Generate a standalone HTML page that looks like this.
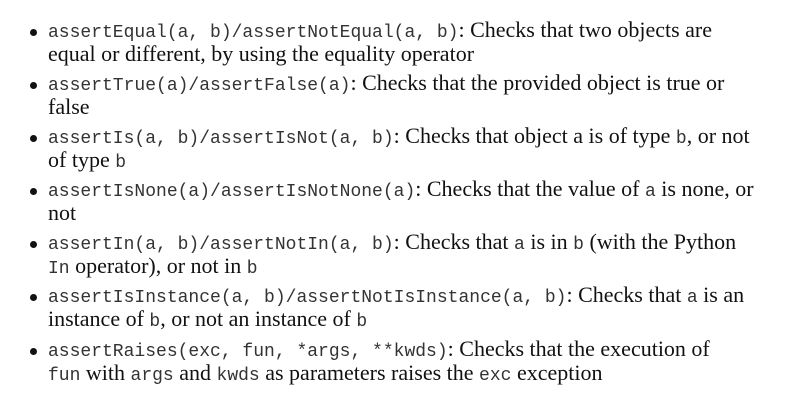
<!DOCTYPE html>
<html><head><meta charset="utf-8"><style>
html,body{margin:0;padding:0;background:#fff;}
body{width:800px;height:405px;position:relative;overflow:hidden;font-family:"Liberation Serif",serif;font-size:22px;color:#111;}
.l{position:absolute;left:48px;white-space:nowrap;line-height:24px;height:24px;}
code{font-family:"Liberation Mono",monospace;font-size:18px;color:#333;}
.b{position:absolute;left:30px;width:7px;height:7px;border-radius:50%;background:#111;}
</style></head><body>
<div class="b" style="top:29px"></div>
<div class="l" style="top:18px"><code>assertEqual(a, b)/assertNotEqual(a, b)</code>: Checks that two objects are</div>
<div class="l" style="top:42px">equal or different, by using the equality operator</div>

<div class="b" style="top:82px"></div>
<div class="l" style="top:71px"><code>assertTrue(a)/assertFalse(a)</code>: Checks that the provided object is true or</div>
<div class="l" style="top:95px">false</div>

<div class="b" style="top:135px"></div>
<div class="l" style="top:124px"><code>assertIs(a, b)/assertIsNot(a, b)</code>: Checks that object a is of type <code>b</code>, or not</div>
<div class="l" style="top:148px">of type <code>b</code></div>

<div class="b" style="top:188px"></div>
<div class="l" style="top:177px"><code>assertIsNone(a)/assertIsNotNone(a)</code>: Checks that the value of <code>a</code> is none, or</div>
<div class="l" style="top:201px">not</div>

<div class="b" style="top:241px"></div>
<div class="l" style="top:230px"><code>assertIn(a, b)/assertNotIn(a, b)</code>: Checks that <code>a</code> is in <code>b</code> (with the Python</div>
<div class="l" style="top:254px"><code>In</code> operator), or not in <code>b</code></div>

<div class="b" style="top:294px"></div>
<div class="l" style="top:283px"><code>assertIsInstance(a, b)/assertNotIsInstance(a, b)</code>: Checks that <code>a</code> is an</div>
<div class="l" style="top:307px">instance of <code>b</code>, or not an instance of <code>b</code></div>

<div class="b" style="top:348px"></div>
<div class="l" style="top:337px"><code>assertRaises(exc, fun, *args, **kwds)</code>: Checks that the execution of</div>
<div class="l" style="top:361px"><code>fun</code> with <code>args</code> and <code>kwds</code> as parameters raises the <code>exc</code> exception</div>
</body></html>
